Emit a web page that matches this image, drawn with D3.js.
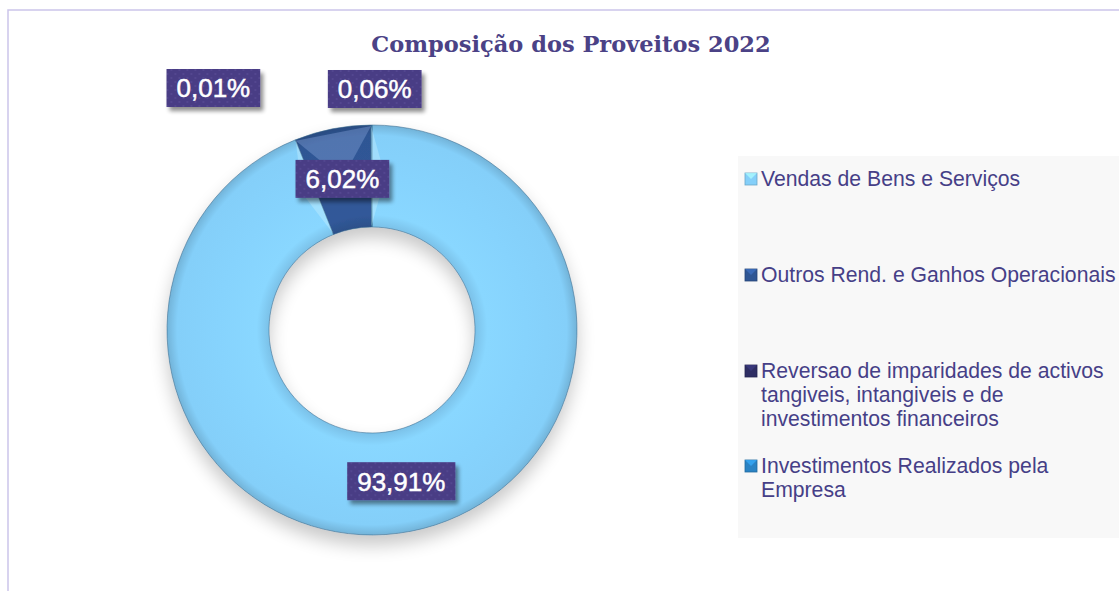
<!DOCTYPE html>
<html lang="pt">
<head>
<meta charset="UTF-8">
<title>Composição dos Proveitos 2022</title>
<style>
  html, body { margin: 0; padding: 0; background: #fff; }
  svg { display: block; }
</style>
</head>
<body>
<svg id="chart"></svg>
<script src="https://d3js.org/d3.v7.min.js"></script>
<script>
// --- dados ---
const categories = [
  "Vendas de Bens e Serviços",
  "Outros Rend. e Ganhos Operacionais",
  "Reversao de imparidades de activos tangiveis, intangiveis e de investimentos financeiros",
  "Investimentos Realizados pela Empresa"
];
const values = [93.91, 6.02, 0.01, 0.06];
const valueLabels = ["93,91%", "6,02%", "0,01%", "0,06%"];
// linhas da legenda (quebra como no original)
const legendLines = [
  ["Vendas de Bens e Serviços"],
  ["Outros Rend. e Ganhos Operacionais"],
  ["Reversao de imparidades de activos", "tangiveis, intangiveis e de", "investimentos financeiros"],
  ["Investimentos Realizados pela", "Empresa"]
];
const colors = ["#84cff9", "#2f5694", "#2e2d63", "#2a83c4"];

// --- layout ---
const W = 1119, H = 591;
const cx = 372, cy = 330, outerR = 205, innerR = 103;
// rótulos das fatias minúsculas são deslocados para fora (em px, relativos ao centróide)
const labelShift = [[0, 0], [0, 0], [-158, -88], [3, -87]];

const svg = d3.select("#chart").attr("width", W).attr("height", H);
const defs = svg.append("defs");

// sombra do anel
const shadow = defs.append("filter").attr("id", "ringShadow")
  .attr("x", "-30%").attr("y", "-30%").attr("width", "160%").attr("height", "170%");
shadow.append("feGaussianBlur").attr("in", "SourceAlpha").attr("stdDeviation", 9).attr("result", "b");
shadow.append("feOffset").attr("dx", 0).attr("dy", 10).attr("result", "o");
shadow.append("feComponentTransfer").append("feFuncA").attr("type", "linear").attr("slope", 0.22);
const m1 = shadow.append("feMerge");
m1.append("feMergeNode");
m1.append("feMergeNode").attr("in", "SourceGraphic");

// sombra das caixas
const bs = defs.append("filter").attr("id", "boxShadow")
  .attr("x", "-20%").attr("y", "-30%").attr("width", "150%").attr("height", "180%");
bs.append("feGaussianBlur").attr("in", "SourceAlpha").attr("stdDeviation", 2).attr("result", "b");
bs.append("feOffset").attr("dx", 3).attr("dy", 4).attr("result", "o");
bs.append("feComponentTransfer").append("feFuncA").attr("type", "linear").attr("slope", 0.45);
const m2 = bs.append("feMerge");
m2.append("feMergeNode");
m2.append("feMergeNode").attr("in", "SourceGraphic");

// padrão pontilhado das caixas
const pat = defs.append("pattern").attr("id", "dots")
  .attr("width", 8).attr("height", 8).attr("patternUnits", "userSpaceOnUse");
pat.append("rect").attr("width", 8).attr("height", 8).attr("fill", "#4a3d85");
pat.append("circle").attr("cx", 2).attr("cy", 2).attr("r", 1).attr("fill", "#554993");
pat.append("circle").attr("cx", 6).attr("cy", 6).attr("r", 1).attr("fill", "#554993");

// gradientes radiais para dar volume (coordenadas locais do grupo do anel)
colors.forEach((c, i) => {
  const g = defs.append("radialGradient").attr("id", "grad" + i)
    .attr("gradientUnits", "userSpaceOnUse")
    .attr("cx", 0).attr("cy", 0).attr("r", outerR);
  const base = d3.color(c);
  g.append("stop").attr("offset", innerR / outerR).attr("stop-color", base.darker(0.2));
  g.append("stop").attr("offset", innerR / outerR + 0.06).attr("stop-color", base.brighter(0.1));
  g.append("stop").attr("offset", 0.75).attr("stop-color", base.brighter(0.05));
  g.append("stop").attr("offset", 0.95).attr("stop-color", base);
  g.append("stop").attr("offset", 1).attr("stop-color", base.darker(0.4));
});

// moldura (só esquerda e topo visíveis)
svg.append("path")
  .attr("d", `M8,${H} L8,10 L${W},10`)
  .attr("fill", "none").attr("stroke", "#cbc5ea").attr("stroke-width", 1.5);

// título
svg.append("text")
  .attr("x", 571).attr("y", 52)
  .attr("text-anchor", "middle")
  .attr("font-family", "'DejaVu Serif', serif")
  .attr("font-weight", "bold")
  .attr("font-size", 22.5)
  .attr("fill", "#4b4286")
  .text("Composição dos Proveitos 2022");

// --- donut ---
const pie = d3.pie().sort(null).value(d => d)(values);
const arc = d3.arc().innerRadius(innerR).outerRadius(outerR);
const midR = (innerR + outerR) / 2;
const labelArc = d3.arc().innerRadius(midR).outerRadius(midR);

const ring = svg.append("g")
  .attr("transform", `translate(${cx},${cy})`)
  .attr("filter", "url(#ringShadow)");

ring.selectAll("path.slice")
  .data(pie)
  .join("path")
  .attr("class", "slice")
  .attr("d", arc)
  .attr("fill", (d, i) => `url(#grad${i})`)
  .attr("stroke", "#3b6a8c")
  .attr("stroke-opacity", 0.55)
  .attr("stroke-width", 1);

// facetas claras nos limites da fatia escura (efeito bisel)
const big = pie[1];
const facet = (a, r) => [r * Math.sin(a), -r * Math.cos(a)];
[[big.startAngle, 1], [big.endAngle, -1]].forEach(([a, dir]) => {
  const p1 = facet(a, outerR - 1), p2 = facet(a, innerR + 1);
  const p3 = facet(a - dir * 0.09, midR);
  ring.append("path")
    .attr("d", `M${p1}L${p3}L${p2}Z`)
    .attr("fill", "#c8f0ff").attr("opacity", 0.4);
});
{
  const a0 = big.startAngle, a1 = big.endAngle;
  const am = (a0 + a1) / 2;
  const q1 = facet(a0, outerR - 1), q2 = facet(a1, outerR - 1), q3 = facet(am, midR);
  ring.append("path").attr("d", `M${q1}L${q2}L${q3}Z`)
    .attr("fill", "#7d9ad0").attr("opacity", 0.45);
}

// --- rótulos ---
const lbl = svg.append("g").attr("transform", `translate(${cx},${cy})`);
const boxH = 38;
lbl.selectAll("g.lbl")
  .data(pie)
  .join("g")
  .attr("class", "lbl")
  .each(function (d, i) {
    const [x, y] = labelArc.centroid(d);
    const tx = x + labelShift[i][0], ty = y + labelShift[i][1];
    const g = d3.select(this).attr("transform", `translate(${tx},${ty})`);
    const t = g.append("text")
      .attr("text-anchor", "middle")
      .attr("dy", "0.36em")
      .attr("font-family", "'Liberation Sans', Arial, sans-serif")
      .attr("font-size", 26)
      .attr("fill", "#ffffff")
      .attr("stroke", "#ffffff")
      .attr("stroke-width", 0.5)
      .text(valueLabels[i]);
    const w = t.node().getComputedTextLength() + 20;
    g.insert("rect", "text")
      .attr("x", -w / 2).attr("y", -boxH / 2)
      .attr("width", w).attr("height", boxH)
      .attr("fill", "url(#dots)")
      .attr("filter", "url(#boxShadow)");
  });

// --- legenda ---
svg.append("rect")
  .attr("x", 738).attr("y", 156).attr("width", W - 738).attr("height", 382)
  .attr("fill", "#f8f8f8");

const legendY = [186, 282, 378, 473];
const lineH = 24;
const leg = svg.append("g");
categories.forEach((c, i) => {
  const g = leg.append("g").attr("transform", `translate(0,${legendY[i]})`);
  const base = d3.color(colors[i]);
  g.append("rect")
    .attr("x", 745).attr("y", -13).attr("width", 12).attr("height", 12)
    .attr("fill", colors[i])
    .attr("stroke", base.darker(0.6)).attr("stroke-width", 0.8);
  g.append("path")
    .attr("d", "M745,-13 L757,-13 L751,-7 Z")
    .attr("fill", base.brighter(0.8)).attr("opacity", 0.7);
  const t = g.append("text")
    .attr("x", 761)
    .attr("font-family", "'Liberation Sans', Arial, sans-serif")
    .attr("font-size", 21.2)
    .attr("fill", "#463f87");
  legendLines[i].forEach((line, k) => {
    t.append("tspan").attr("x", 761).attr("dy", k === 0 ? 0 : lineH).text(line);
  });
});
</script>
</body>
</html>
